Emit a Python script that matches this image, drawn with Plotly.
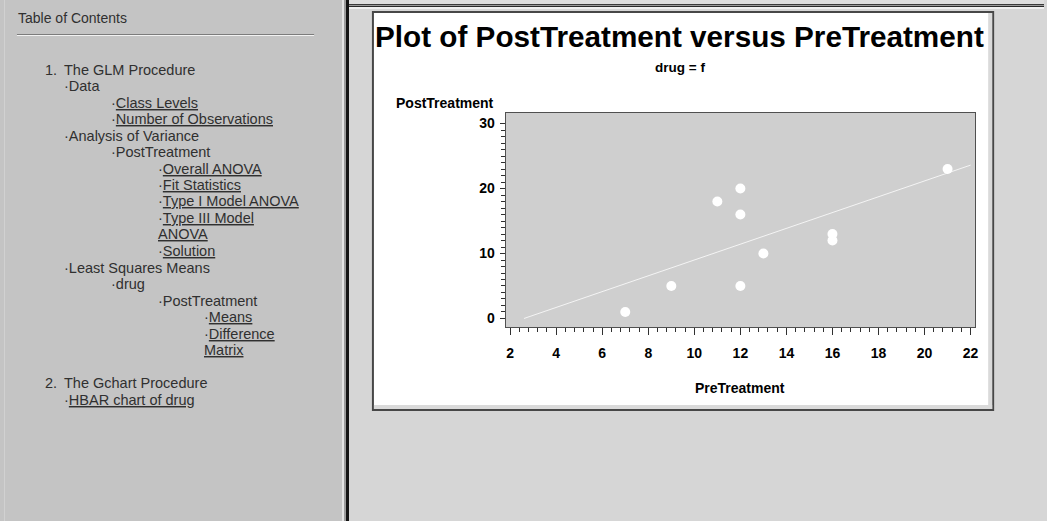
import plotly.graph_objects as go

# ---------------- data ----------------
pre_treatment = [7, 9, 11, 12, 12, 12, 13, 16, 16, 21]
post_treatment = [1, 5, 18, 20, 16, 5, 10, 13, 12, 23]
fit_x = [2.6, 22.0]
fit_y = [0.0, 23.6]
x_ticks = [2, 4, 6, 8, 10, 12, 14, 16, 18, 20, 22]
y_ticks = [0, 10, 20, 30]
title_text = "Plot of PostTreatment versus PreTreatment"
subtitle_text = "drug = f"
x_title = "PreTreatment"
y_title = "PostTreatment"

toc_header = "Table of Contents"
toc_text = ["The GLM Procedure", "Data", "Class Levels", "Number of Observations",
            "Analysis of Variance", "PostTreatment", "Overall ANOVA", "Fit Statistics",
            "Type I Model ANOVA", "Type III Model", "ANOVA", "Solution",
            "Least Squares Means", "drug", "PostTreatment", "Means", "Difference",
            "Matrix", "The Gchart Procedure", "HBAR chart of drug"]
toc_number = ["1.", "", "", "", "", "", "", "", "", "", "", "", "", "", "", "", "", "", "2.", ""]
toc_link = [False, False, True, True, False, False, True, True, True, True, True, True,
            False, False, False, True, True, True, False, True]
toc_bullet = [False, True, True, True, True, True, True, True, True, True, False, True,
              True, True, True, True, True, False, False, True]

# ---------------- layout geometry (pixels) ----------------
W, H = 1047, 521
def fx(x):
    return x / W
def fy(y):
    return 1 - y / H

toc_level = [1, 1, 2, 2, 1, 2, 3, 3, 3, 3, 3, 3, 1, 2, 3, 4, 4, 4, 1, 1]
toc_row = [0, 1, 2, 3, 4, 5, 6, 7, 8, 9, 10, 11, 12, 13, 14, 15, 16, 17, 19, 20]
level_x = {1: 62, 2: 109, 3: 156, 4: 203}

fig = go.Figure()
fig.add_trace(go.Scatter(x=fit_x, y=fit_y, mode="lines",
                         line=dict(color="#f4f4f4", width=1), hoverinfo="skip"))
fig.add_trace(go.Scatter(x=pre_treatment, y=post_treatment, mode="markers",
                         marker=dict(color="white", size=10, line=dict(width=0))))

shapes = []
def rect(x0, y0, x1, y1, fill, line_color=None, lw=0):
    shapes.append(dict(type="rect", xref="paper", yref="paper", layer="below",
                       x0=fx(x0), x1=fx(x1), y0=fy(y1), y1=fy(y0), fillcolor=fill,
                       line=dict(color=line_color or fill, width=lw)))

# left TOC panel
rect(0, 0, 343, H, "#c4c4c4")
rect(4, 0, 5, H, "#d2d2d2")
rect(343, 0, 345, H, "#e4e4e4")
rect(345, 0, 347, H, "#9c9c9c")
rect(347, 0, 350, H, "#141414")
# top bar of right pane
rect(350, 0, W, 4, "#dedede")
rect(350, 4, W, 5, "#3a3a3a")
rect(350, 5, W, 6, "#9a9a9a")
rect(350, 6, W, 7, "#2a2a2a")
rect(350, 7, W, 9, "#f0f0f0")
# header separator line in TOC
rect(17, 34, 315, 35, "#7c7c7c")
rect(17, 35, 315, 36, "#f2f2f2")
# white graph box
rect(374, 12, 996, 410, "white", "#474747", 2)
rect(991, 13, 995, 409, "#dadada")
rect(375, 405, 995, 409, "#dadada")
# gray plot area
shapes.append(dict(type="rect", xref="x domain", yref="y domain", layer="below",
                   x0=0, x1=1, y0=0, y1=1, fillcolor="#cfcfcf", line=dict(width=0)))

ann = []
toc_font = dict(family="Liberation Sans, Arial", size=14.5, color="#303030")
ann.append(dict(text=toc_header, x=fx(16), y=fy(18), xanchor="left", yanchor="middle",
                font=dict(family="Liberation Sans, Arial", size=14, color="#303030")))
for i, t in enumerate(toc_text):
    yy = 69.5 + 16.5 * toc_row[i]
    label = "<u>%s</u>" % t if toc_link[i] else t
    if toc_bullet[i]:
        label = "·" + label
    xx = level_x[toc_level[i]]
    if toc_number[i]:
        ann.append(dict(text=toc_number[i], x=fx(43), y=fy(yy), xanchor="left",
                        yanchor="middle", font=toc_font))
        xx = level_x[1]
    ann.append(dict(text=label, x=fx(xx), y=fy(yy), xanchor="left", yanchor="middle",
                    font=toc_font))

bold = lambda s: dict(family="Liberation Sans, Arial", size=s, color="black", weight="bold")
ann.append(dict(text=title_text, x=fx(681.5), y=fy(37), xanchor="center", yanchor="middle",
                font=bold(29.7)))
ann.append(dict(text=subtitle_text, x=fx(682), y=fy(67), xanchor="center", yanchor="middle",
                font=bold(13.5)))
ann.append(dict(text=y_title, x=fx(497), y=fy(103), xanchor="right", yanchor="middle",
                font=bold(14)))
ann.append(dict(text=x_title, x=fx(742.5), y=fy(388), xanchor="center", yanchor="middle",
                font=bold(14)))
for a in ann:
    a.update(xref="paper", yref="paper", showarrow=False)

fig.update_layout(
    width=W, height=H, autosize=False,
    margin=dict(l=0, r=0, t=0, b=0, pad=0),
    paper_bgcolor="#d6d6d6", plot_bgcolor="rgba(0,0,0,0)",
    showlegend=False, shapes=shapes, annotations=ann,
    xaxis=dict(domain=[fx(507), fx(978)], range=[1.8, 22.2], tickvals=x_ticks,
               ticks="outside", ticklen=7, tickwidth=1, tickcolor="#303030",
               showline=True, mirror=True, linecolor="#505050", linewidth=1,
               showgrid=False, zeroline=False, ticklabelstandoff=6,
               tickfont=bold(14),
               minor=dict(dtick=0.4, tick0=2, ticks="outside", ticklen=4,
                          tickcolor="#303030", showgrid=False)),
    yaxis=dict(domain=[fy(327), fy(113)], range=[-1.31, 31.62], tickvals=y_ticks,
               ticks="outside", ticklen=5, tickwidth=1, tickcolor="#303030",
               showline=True, mirror=True, linecolor="#505050", linewidth=1,
               showgrid=False, zeroline=False, ticklabelstandoff=2,
               tickfont=bold(14),
               minor=dict(tickmode="array",
                          tickvals=[v for v in range(0, 31) if v % 10],
                          ticks="outside", ticklen=4, tickcolor="#303030",
                          showgrid=False)),
)

fig.write_html("out.html", config={"displayModeBar": False},
               post_script="document.body.style.margin='0';document.body.style.overflow='hidden';")
